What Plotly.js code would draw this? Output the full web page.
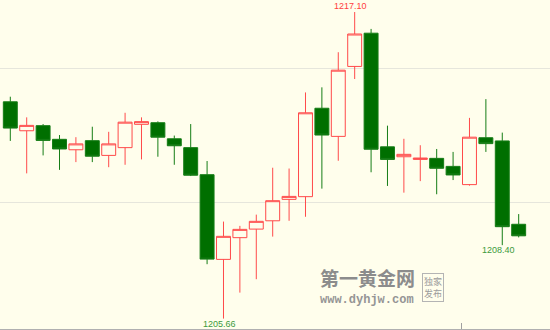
<!DOCTYPE html>
<html>
<head>
<meta charset="utf-8">
<script src="https://cdn.plot.ly/plotly-3.0.1.min.js"></script>
<style>
  html, body { margin: 0; padding: 0; background: #fffeec; }
  #chart { width: 550px; height: 330px; }
</style>
</head>
<body>
<div id="chart"></div>
<script>
// Gold price, short-interval candles
const openPx  = [1213.75, 1212.67, 1212.86, 1212.35, 1211.96, 1212.30, 1211.75, 1212.04, 1212.91, 1212.97, 1212.37, 1212.04, 1211.03, 1207.87, 1208.68, 1209.00, 1209.31, 1210.11, 1210.21, 1213.51, 1212.46, 1215.07, 1216.31, 1212.07, 1211.70, 1211.60, 1211.64, 1211.34, 1210.66, 1212.41, 1212.29, 1209.18];
const highPx  = [1213.94, 1213.17, 1212.92, 1212.51, 1212.43, 1212.82, 1212.63, 1213.34, 1213.17, 1213.02, 1212.49, 1212.92, 1211.54, 1209.28, 1209.12, 1209.54, 1211.29, 1211.26, 1214.10, 1214.29, 1215.60, 1217.10, 1216.47, 1212.86, 1212.37, 1212.13, 1211.99, 1211.88, 1213.15, 1213.85, 1212.60, 1209.56];
const lowPx   = [1212.29, 1211.08, 1211.75, 1211.21, 1211.50, 1211.50, 1211.31, 1211.40, 1211.60, 1211.70, 1211.40, 1210.98, 1207.69, 1205.66, 1206.63, 1207.13, 1208.72, 1209.31, 1209.46, 1210.51, 1211.55, 1214.60, 1211.12, 1210.61, 1210.36, 1210.79, 1210.30, 1210.83, 1210.62, 1211.88, 1208.40, 1208.69];
const closePx = [1212.77, 1212.87, 1212.31, 1211.99, 1212.18, 1211.72, 1212.18, 1212.99, 1213.01, 1212.43, 1212.11, 1211.01, 1207.88, 1208.73, 1208.99, 1209.29, 1210.06, 1210.22, 1213.34, 1212.51, 1214.93, 1216.28, 1211.98, 1211.60, 1211.79, 1211.65, 1211.27, 1211.02, 1212.43, 1212.19, 1209.09, 1208.75];

// price levels with a grid line, and the session boundary tick
const gridLevels = [1210, 1215];
const sessionBreak = [27.5];

// marked extremes: candle index and which price
const markIdx   = [21, 13, 30];
const markField = ['high', 'low', 'low'];

const xs = openPx.map((_, i) => i);
const BG = '#fffeec';
const UP = '#ff4a4a';
const DOWN_LINE = '#167d16';
const DOWN_FILL = '#006f00';

const candles = {
  type: 'candlestick',
  x: xs,
  open: openPx, high: highPx, low: lowPx, close: closePx,
  increasing: { line: { color: UP, width: 1 }, fillcolor: BG },
  decreasing: { line: { color: DOWN_LINE, width: 1 }, fillcolor: DOWN_FILL },
  whiskerwidth: 0,
  hoverinfo: 'skip',
  showlegend: false
};

const annotations = markIdx.map((idx, k) => {
  const isHigh = markField[k] === 'high';
  const v = isHigh ? highPx[idx] : lowPx[idx];
  return {
    x: idx, y: v, xref: 'x', yref: 'y',
    text: v.toFixed(2),
    showarrow: false,
    xanchor: 'center',
    yanchor: isHigh ? 'bottom' : 'top',
    xshift: -4,
    yshift: isHigh ? -1 : 2,
    font: { family: 'Liberation Sans, Arial, sans-serif', size: 9, color: isHigh ? '#ff4040' : '#3c9a3c' }
  };
});

// site watermark
const W = 550, H = 330;
const px = (x) => x / W;
const py = (y) => 1 - y / H;
annotations.push(
  {
    xref: 'paper', yref: 'paper', x: px(367), y: py(293),
    text: '<b>第一黄金网</b>', showarrow: false, xanchor: 'center', yanchor: 'bottom',
    borderpad: 0,
    font: { family: 'Noto Sans CJK SC', size: 19, color: '#8c8c8c' }
  },
  {
    xref: 'paper', yref: 'paper', x: px(367), y: py(293),
    text: '<b>www.dyhjw.com</b>', showarrow: false, xanchor: 'center', yanchor: 'top',
    borderpad: 0,
    font: { family: 'Liberation Mono, DejaVu Sans Mono, monospace', size: 12, color: '#959595' }
  },
  {
    xref: 'paper', yref: 'paper', x: px(433), y: py(288),
    text: '独家<br>发布', showarrow: false, xanchor: 'center', yanchor: 'middle',
    bordercolor: '#b4b4b4', borderwidth: 1, borderpad: 1,
    font: { family: 'Noto Sans CJK SC', size: 9, color: '#9c9c9c' }
  }
);

const layout = {
  width: W, height: H,
  margin: { l: 0, r: 0, t: 0, b: 1, pad: 0 },
  paper_bgcolor: BG,
  plot_bgcolor: BG,
  boxgap: 0.15,
  boxgroupgap: 0,
  xaxis: {
    type: 'linear',
    range: [-0.628, 32.91],
    showgrid: false, zeroline: false,
    showline: true, linecolor: '#b0b0b0', linewidth: 1,
    tickmode: 'array', tickvals: sessionBreak,
    ticks: 'inside', ticklen: 6, tickcolor: '#a0a0a0', tickwidth: 1,
    showticklabels: false,
    rangeslider: { visible: false },
    fixedrange: true
  },
  yaxis: {
    range: [1205.272, 1217.549],
    tickmode: 'array', tickvals: gridLevels,
    showgrid: true, gridcolor: '#e6e6dc', gridwidth: 1,
    zeroline: false, showline: false,
    showticklabels: false, ticks: '',
    fixedrange: true
  },
  annotations: annotations,
  hovermode: false
};

Plotly.newPlot('chart', [candles], layout, { staticPlot: true, displayModeBar: false });
</script>
</body>
</html>
